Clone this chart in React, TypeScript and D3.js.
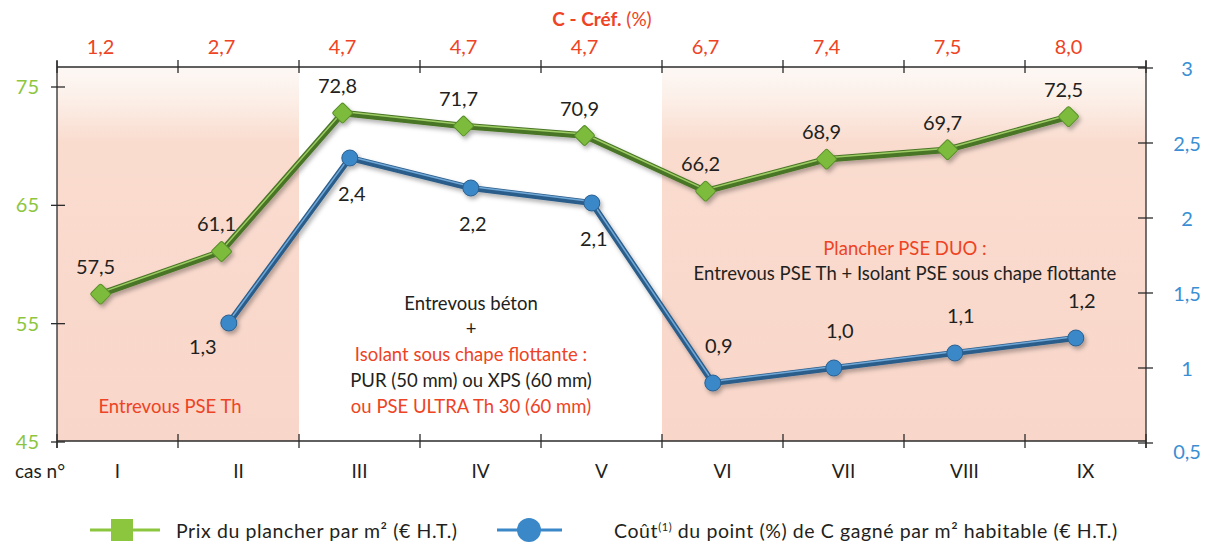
import React from "react";
import * as d3 from "d3";

const cases = ["I", "II", "III", "IV", "V", "VI", "VII", "VIII", "IX"];
const cRef = ["1,2", "2,7", "4,7", "4,7", "4,7", "6,7", "7,4", "7,5", "8,0"];
const prix = [57.5, 61.1, 72.8, 71.7, 70.9, 66.2, 68.9, 69.7, 72.5];
const cout: (number | null)[] = [null, 1.3, 2.4, 2.2, 2.1, 0.9, 1.0, 1.1, 1.2];
const leftTicks = [45, 55, 65, 75];
const rightTicks = [0.5, 1, 1.5, 2, 2.5, 3];
// where the blue value labels sit relative to the point
const coutLabelPos = ["", "left", "below", "below", "below", "above", "above", "above", "above"];
const shaded = [
  ["I", "II"],
  ["VI", "IX"],
];

const W = 1207;
const H = 551;
const m = { top: 67, right: 61, bottom: 110, left: 57 };
const font = "Lato, 'Open Sans', sans-serif";
const RED = "#ee4324";
const GREEN_TXT = "#8cc63f";
const BLUE_TXT = "#3a8fd4";
const DARK = "#231f20";

const comma = (s: string) => s.replace(".", ",");
const f1 = (v: number) => comma(d3.format(".1f")(v));
const fAxis = (v: number) => comma(String(v));

export default function App() {
  const x = d3
    .scaleBand<string>()
    .domain(cases)
    .range([m.left, W - m.right])
    .padding(0);
  const bw = x.bandwidth();
  const yL = d3.scaleLinear().domain([45, 75]).range([442, 87]);
  const yR = d3.scaleLinear().domain([0.5, 3]).range([443, 68]);
  const top = m.top;
  const bottom = 441;
  const xr = W - m.right;

  const gx = (c: string) => (x(c) as number) + bw * 0.36;
  const bx = (c: string) => (x(c) as number) + bw * 0.42;

  const greenPts: [number, number][] = cases.map((c, i) => [gx(c), yL(prix[i])]);
  const bluePts = cases
    .map((c, i) => ({ c, v: cout[i], pos: coutLabelPos[i] }))
    .filter((d) => d.v != null)
    .map((d) => ({ ...d, px: bx(d.c), py: yR(d.v as number) }));

  const line = d3.line();
  const boundaries = [...cases.map((c) => x(c) as number), xr];

  return (
    <svg
      width={W}
      height={H}
      style={{ position: "absolute", left: 0, top: 0, display: "block", background: "#fff" }}
      fontFamily={font}
    >
      <defs>
        <linearGradient id="pink" x1="0" y1="0" x2="0" y2="1">
          <stop offset="0" stopColor="#fdf8f5" />
          <stop offset="0.08" stopColor="#fcf0e9" />
          <stop offset="0.2" stopColor="#fadccf" />
          <stop offset="1" stopColor="#f9d6ca" />
        </linearGradient>
        <filter id="shadow" x="-5%" y="-20%" width="110%" height="140%">
          <feDropShadow dx="2" dy="3" stdDeviation="2" floodColor="#000" floodOpacity="0.3" />
        </filter>
      </defs>

      {/* shaded groups */}
      {shaded.map(([a, b], i) => (
        <rect
          key={i}
          x={x(a)}
          y={top}
          width={(x(b) as number) + bw - (x(a) as number)}
          height={bottom - top}
          fill="url(#pink)"
        />
      ))}

      {/* frame */}
      <g stroke="#2b2b2b" strokeWidth={1.3} fill="none">
        <line x1={m.left} x2={xr} y1={top} y2={top} />
        <line x1={m.left} x2={xr} y1={bottom} y2={bottom} />
        <line x1={m.left} x2={m.left} y1={top - 6} y2={bottom + 7} />
        <line x1={xr} x2={xr} y1={top - 6} y2={bottom + 7} />
        {boundaries.map((b, i) => (
          <g key={i}>
            <line x1={b} x2={b} y1={top - 7} y2={top + 6} />
            <line x1={b} x2={b} y1={bottom - 7} y2={bottom + 7} />
          </g>
        ))}
        {leftTicks.map((t) => (
          <line key={t} x1={m.left - 6} x2={m.left + 8} y1={yL(t)} y2={yL(t)} />
        ))}
        {rightTicks.map((t) => (
          <line key={t} x1={xr - 8} x2={xr + 7} y1={yR(t)} y2={yR(t)} />
        ))}
      </g>

      {/* left axis labels */}
      {leftTicks.map((t) => (
        <text key={t} x={39} y={yL(t)} dy="0.35em" textAnchor="end" fontSize={20} fill={GREEN_TXT}>
          {t}
        </text>
      ))}
      {/* right axis labels */}
      {rightTicks.map((t, i) => (
        <text
          key={t}
          x={1187}
          y={yR(t) + (i === 0 ? 9 : 1)}
          dy="0.35em"
          textAnchor="middle"
          fontSize={20}
          fill={BLUE_TXT}
        >
          {fAxis(t)}
        </text>
      ))}

      {/* top axis: C - Cref */}
      <text x={602} y={19} dy="0.35em" textAnchor="middle" fontSize={19} fill={RED}>
        <tspan fontWeight="bold">C - Créf.</tspan> (%)
      </text>
      {cases.map((c, i) => (
        <text key={c} x={gx(c)} y={47} dy="0.35em" textAnchor="middle" fontSize={20} fill={RED}>
          {cRef[i]}
        </text>
      ))}

      {/* bottom categories */}
      <text x={15} y={471} dy="0.35em" fontSize={19} fill={DARK}>
        cas n°
      </text>
      {cases.map((c) => (
        <text
          key={c}
          x={(x(c) as number) + bw / 2}
          y={471}
          dy="0.35em"
          textAnchor="middle"
          fontSize={19}
          fill={DARK}
        >
          {c}
        </text>
      ))}

      {/* annotations */}
      <text x={170} y={407} dy="0.35em" textAnchor="middle" fontSize={18.5} fill={RED}>
        Entrevous PSE Th
      </text>
      <g textAnchor="middle" fontSize={18.5}>
        <text x={471} y={304} dy="0.35em" fill={DARK}>Entrevous béton</text>
        <text x={471} y={329} dy="0.35em" fill={DARK}>+</text>
        <text x={471} y={355} dy="0.35em" fill={RED}>Isolant sous chape flottante :</text>
        <text x={471} y={381} dy="0.35em" fill={DARK}>PUR (50 mm) ou XPS (60 mm)</text>
        <text x={471} y={407} dy="0.35em" fill={RED}>ou PSE ULTRA Th 30 (60 mm)</text>
        <text x={905} y={249} dy="0.35em" fill={RED}>Plancher PSE DUO :</text>
        <text x={905} y={274} dy="0.35em" fill={DARK}>
          Entrevous PSE Th + Isolant PSE sous chape flottante
        </text>
      </g>

      {/* green series */}
      <g filter="url(#shadow)">
        <path d={line(greenPts) as string} fill="none" stroke="#4a7526" strokeWidth={6.5} strokeLinejoin="round" />
        <path d={line(greenPts) as string} fill="none" stroke="#9ccc63" strokeWidth={1.5} strokeLinejoin="round" transform="translate(0,-1.5)" />
        {greenPts.map(([px, py], i) => (
          <rect
            key={i}
            x={-7.5}
            y={-7.5}
            width={15}
            height={15}
            rx={2}
            fill="#7dbb3c"
            stroke="#5a8f2c"
            strokeWidth={1}
            transform={`translate(${px},${py}) rotate(45)`}
          />
        ))}
      </g>

      {/* blue series */}
      <g filter="url(#shadow)">
        <path
          d={line(bluePts.map((d) => [d.px, d.py])) as string}
          fill="none"
          stroke="#2c5d8a"
          strokeWidth={6}
          strokeLinejoin="round"
        />
        <path
          d={line(bluePts.map((d) => [d.px, d.py])) as string}
          fill="none"
          stroke="#6fa8d8"
          strokeWidth={1.5}
          strokeLinejoin="round"
          transform="translate(0,-1.5)"
        />
        {bluePts.map((d) => (
          <circle key={d.c} cx={d.px} cy={d.py} r={8} fill="#3b88c8" stroke="#2a5f8f" strokeWidth={1} />
        ))}
      </g>

      {/* value labels */}
      {greenPts.map(([px, py], i) => (
        <text key={i} x={px - 5} y={py - 27} dy="0.35em" textAnchor="middle" fontSize={20} fill={DARK}>
          {f1(prix[i])}
        </text>
      ))}
      {bluePts.map((d) => {
        const off =
          d.pos === "left" ? [-26, 24] : d.pos === "below" ? [2, 36] : [6, -37];
        return (
          <text
            key={d.c}
            x={d.px + off[0]}
            y={d.py + off[1]}
            dy="0.35em"
            textAnchor="middle"
            fontSize={20}
            fill={DARK}
          >
            {f1(d.v as number)}
          </text>
        );
      })}

      {/* legend */}
      <g letterSpacing={0.6}>
        <line x1={90} x2={160} y1={530} y2={530} stroke="#8cc63f" strokeWidth={3} />
        <rect x={111} y={519} width={22} height={22} fill="#8cc63f" />
        <text x={176} y={531} dy="0.35em" fontSize={19.5} fill={DARK}>
          Prix du plancher par m² (€ H.T.)
        </text>
        <line x1={497} x2={562} y1={530} y2={530} stroke="#3a88c8" strokeWidth={3} />
        <circle cx={529} cy={530} r={12} fill="#3a88c8" />
        <text x={614} y={531} dy="0.35em" fontSize={19.5} fill={DARK}>
          Coût<tspan fontSize={11} dy="-7">(1)</tspan>
          <tspan dy="7"> du point (%) de C gagné par m² habitable (€ H.T.)</tspan>
        </text>
      </g>
    </svg>
  );
}
